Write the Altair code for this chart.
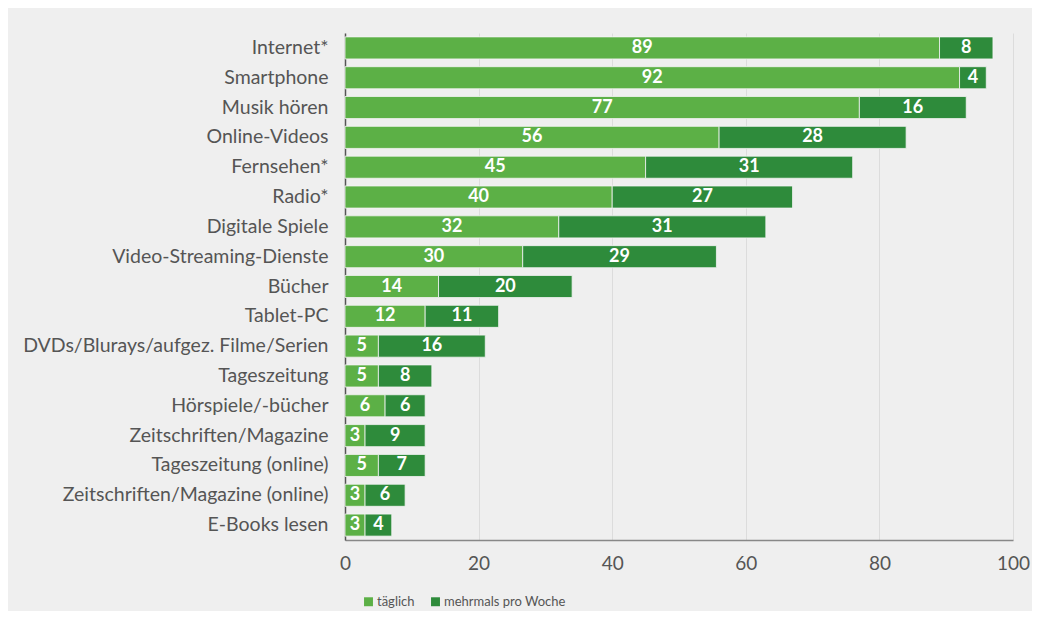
import altair as alt
import pandas as pd

categories = [
    "Internet*", "Smartphone", "Musik hören", "Online-Videos", "Fernsehen*",
    "Radio*", "Digitale Spiele", "Video-Streaming-Dienste", "Bücher", "Tablet-PC",
    "DVDs/Blurays/aufgez. Filme/Serien", "Tageszeitung", "Hörspiele/-bücher",
    "Zeitschriften/Magazine", "Tageszeitung (online)", "Zeitschriften/Magazine (online)",
    "E-Books lesen",
]
taeglich = [89, 92, 77, 56, 45, 40, 32, 26.6, 14, 12, 5, 5, 6, 3, 5, 3, 3]
taeglich_labels = ["89", "92", "77", "56", "45", "40", "32", "30", "14", "12", "5", "5", "6", "3", "5", "3", "3"]
mehrmals = [8, 4, 16, 28, 31, 27, 31, 29, 20, 11, 16, 8, 6, 9, 7, 6, 4]
mehrmals_labels = ["8", "4", "16", "28", "31", "27", "31", "29", "20", "11", "16", "8", "6", "9", "7", "6", "4"]
series = ["täglich", "mehrmals pro Woche"]
colors = ["#5cb046", "#2e8b3b"]

rows = []
for i, c in enumerate(categories):
    rows.append(dict(cat=c, series=series[0], start=0, end=taeglich[i], label=taeglich_labels[i], order=0))
    rows.append(dict(cat=c, series=series[1], start=taeglich[i], end=taeglich[i] + mehrmals[i], label=mehrmals_labels[i], order=1))
df = pd.DataFrame(rows)
df["mid"] = (df["start"] + df["end"]) / 2

FONT = "Lato"

y = alt.Y("cat:N", sort=categories, title=None,
          scale=alt.Scale(paddingInner=0.26, paddingOuter=0.13),
          axis=alt.Axis(labelFontSize=19.5, labelColor="#555555", labelFont=FONT, labelLimit=400,
                        ticks=False, labelPadding=17, domainColor="#555555", domainWidth=1.5,
                        minExtent=332, maxExtent=332, grid=False))

bars = alt.Chart(df).mark_bar(stroke="#f4f4f4", strokeWidth=0.8).encode(
    x=alt.X("start:Q", scale=alt.Scale(domain=[0, 100]), title=None,
            axis=alt.Axis(values=[0, 20, 40, 60, 80, 100], labelFontSize=19, labelColor="#555555",
                          labelFont=FONT, ticks=False, labelPadding=14, labelFlush=False, grid=True,
                          gridColor="#dcdcdc", gridWidth=1, domainColor="#888888", domainWidth=1.5)),
    x2="end:Q",
    y=y,
    color=alt.Color("series:N", scale=alt.Scale(domain=series, range=colors), title=None,
                    legend=alt.Legend(orient="none", legendX=17, legendY=562, direction="horizontal",
                                      symbolType="square", symbolSize=80, symbolStrokeWidth=0,
                                      labelFontSize=13, labelColor="#555555", labelFont=FONT,
                                      columnPadding=14, labelOffset=2)),
    order="order:Q",
)

texts = alt.Chart(df).mark_text(color="white", fontSize=18, fontWeight="bold", font=FONT,
                                baseline="middle", align="center").encode(
    x="mid:Q",
    y=alt.Y("cat:N", sort=categories),
    text="label:N",
)

chart = alt.layer(bars, texts).properties(
    width=668, height=507,
    padding={"left": 5, "top": 25, "right": 2, "bottom": 2},
    background="#efefef",
).configure_view(stroke=None)

chart.save("out.html", embed_options={"renderer": "svg", "actions": False})
